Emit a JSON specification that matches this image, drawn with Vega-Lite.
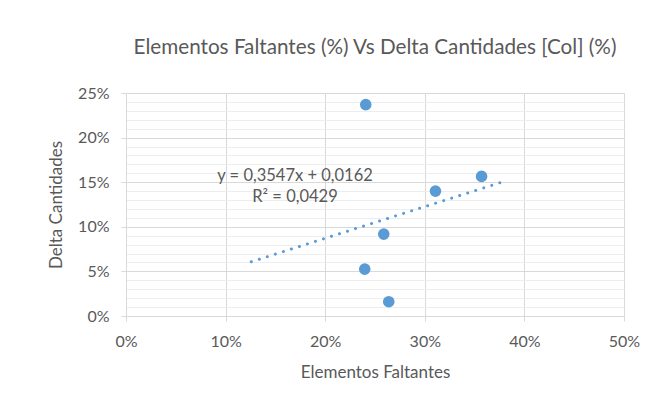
{
  "$schema": "https://vega.github.io/schema/vega-lite/v6.json",
  "autosize": "none",
  "width": 498,
  "height": 223,
  "padding": {"left": 126, "top": 93, "right": 38, "bottom": 91},
  "background": "white",
  "config": {
    "font": "Lato",
    "view": {"stroke": null},
    "axis": {"labelColor": "#595959", "titleColor": "#595959", "labelFont": "Lato", "titleFont": "Lato", "titleFontWeight": "normal"}
  },
  "title": {
    "text": "Elementos Faltantes (%) Vs Delta Cantidades [Col] (%)",
    "anchor": "middle",
    "frame": "group",
    "fontSize": 20.7,
    "fontWeight": "normal",
    "font": "Lato",
    "color": "#595959",
    "baseline": "alphabetic",
    "offset": 10
  },
  "datasets": {
    "points": [
      {"faltantes": 0.2407, "delta": 0.237},
      {"faltantes": 0.357, "delta": 0.1565},
      {"faltantes": 0.3107, "delta": 0.140},
      {"faltantes": 0.2588, "delta": 0.0918},
      {"faltantes": 0.2397, "delta": 0.0525},
      {"faltantes": 0.2638, "delta": 0.016}
    ],
    "trend": [
      {"faltantes": 0.1258, "delta": 0.0608},
      {"faltantes": 0.38, "delta": 0.151}
    ],
    "labels": [
      {"faltantes": 0.1697, "delta": 0.157, "text": "y = 0,3547x + 0,0162"},
      {"faltantes": 0.1697, "delta": 0.1337, "text": "R² = 0,0429"}
    ]
  },
  "layer": [
    {
      "data": {"name": "points"},
      "mark": {"type": "point", "filled": true, "opacity": 1, "size": 135, "color": "#5B9BD5"},
      "encoding": {
        "x": {
          "field": "faltantes", "type": "quantitative",
          "scale": {"domain": [0, 0.5], "nice": false, "zero": false},
          "axis": {
            "title": "Elementos Faltantes",
            "values": [0, 0.1, 0.2, 0.3, 0.4, 0.5],
            "tickCount": 50,
            "format": ".0%",
            "labelFontSize": 16,
            "titleFontSize": 17,
            "labelPadding": 12,
            "titlePadding": 15,
            "labelFlush": false,
            "grid": true,
            "gridColor": "#D9D9D9",
            "gridWidth": 1,
            "domain": true,
            "domainColor": "#D9D9D9",
            "domainWidth": 1,
            "ticks": true,
            "tickColor": "#D9D9D9",
            "tickSize": 5,
            "labelOverlap": false
          }
        },
        "y": {
          "field": "delta", "type": "quantitative",
          "scale": {"domain": [0, 0.25], "nice": false, "zero": false},
          "axis": {
            "title": "Delta Cantidades",
            "values": [0, 0.01, 0.02, 0.03, 0.04, 0.05, 0.06, 0.07, 0.08, 0.09, 0.1, 0.11, 0.12, 0.13, 0.14, 0.15, 0.16, 0.17, 0.18, 0.19, 0.2, 0.21, 0.22, 0.23, 0.24, 0.25],
            "tickCount": 50,
            "labelExpr": "round(datum.value * 100) % 5 === 0 ? format(datum.value, '.0%') : ''",
            "labelFontSize": 16,
            "titleFontSize": 17,
            "labelPadding": 12,
            "titlePadding": 12,
            "labelOverlap": false,
            "labelFlush": false,
            "labelBound": false,
            "grid": true,
            "gridColor": {"condition": {"test": "round(datum.value * 100) % 5 === 0", "value": "#D9D9D9"}, "value": "#EDEDED"},
            "gridWidth": 1,
            "domain": true,
            "domainColor": "#D9D9D9",
            "ticks": true,
            "tickColor": "#D9D9D9",
            "tickOpacity": {"condition": {"test": "round(datum.value * 100) % 5 === 0", "value": 1}, "value": 0},
            "tickSize": 5
          }
        }
      }
    },
    {
      "data": {"name": "trend"},
      "mark": {"type": "line", "color": "#5B9BD5", "strokeWidth": 3, "strokeCap": "round", "strokeDash": [0.01, 8.4]},
      "encoding": {
        "x": {"field": "faltantes", "type": "quantitative"},
        "y": {"field": "delta", "type": "quantitative"}
      }
    },
    {
      "data": {"name": "labels"},
      "mark": {"type": "text", "fontSize": 16.5, "color": "#595959", "font": "Lato", "align": "center", "baseline": "middle"},
      "encoding": {
        "x": {"field": "faltantes", "type": "quantitative"},
        "y": {"field": "delta", "type": "quantitative"},
        "text": {"field": "text"}
      }
    }
  ]
}
